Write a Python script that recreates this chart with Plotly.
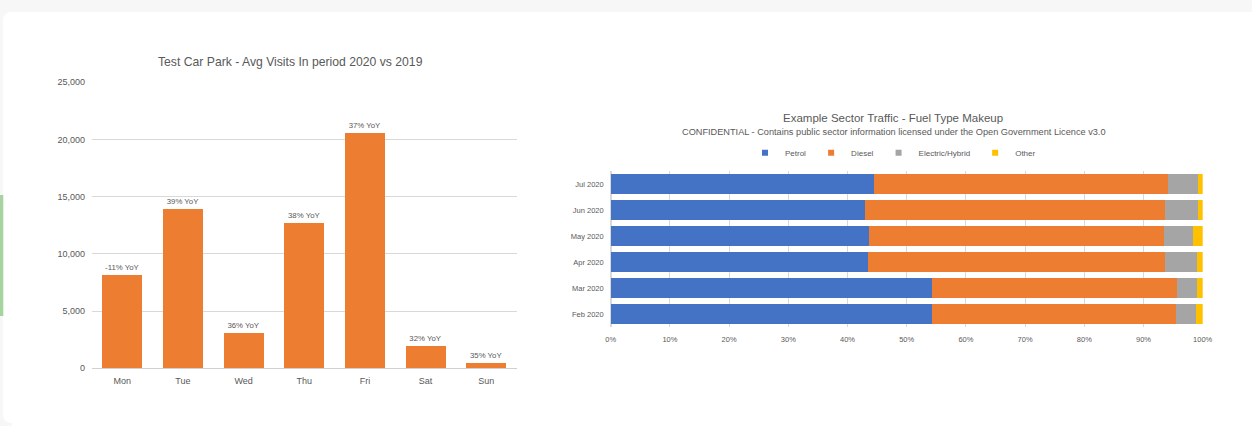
import plotly.graph_objects as go

# ---------------- data ----------------
days = ["Mon", "Tue", "Wed", "Thu", "Fri", "Sat", "Sun"]
avg_visits = [8130, 13950, 3060, 12675, 20590, 1950, 440]
yoy_labels = ["-11% YoY", "39% YoY", "36% YoY", "38% YoY", "37% YoY", "32% YoY", "35% YoY"]

months = ["Feb 2020", "Mar 2020", "Apr 2020", "May 2020", "Jun 2020", "Jul 2020"]
petrol = [54.2, 54.2, 43.4, 43.6, 42.9, 44.5]
diesel = [41.3, 41.5, 50.2, 49.9, 50.7, 49.7]
electric = [3.4, 3.4, 5.5, 4.9, 5.6, 5.0]
other = [1.1, 0.9, 0.9, 1.6, 0.8, 0.8]
fuel_names = ["Petrol", "Diesel", "Electric/Hybrid", "Other"]
fuel_colors = ["#4472C4", "#ED7D31", "#A5A5A5", "#FFC000"]

left_ticks = [0, 5000, 10000, 15000, 20000, 25000]
right_ticks = [0, 10, 20, 30, 40, 50, 60, 70, 80, 90, 100]
right_tick_text = [f"{v}%" for v in right_ticks]

# ---------------- layout helpers ----------------
W, H = 1252, 426
FONT = "Liberation Sans"
GREY = "#595959"


def px(x):
    return x / W


def py(y):
    return 1 - y / H


fig = go.Figure()

fig.add_trace(go.Bar(
    x=days, y=avg_visits, text=yoy_labels, textposition="outside",
    textfont=dict(size=7.8, color=GREY, family=FONT),
    marker=dict(color="#ED7D31", line=dict(width=0)),
    cliponaxis=False, showlegend=False, xaxis="x", yaxis="y",
    hoverinfo="x+y",
))

for name, vals, col in zip(fuel_names, [petrol, diesel, electric, other], fuel_colors):
    fig.add_trace(go.Bar(
        y=months, x=vals, orientation="h", name=name, legendgroup=name,
        marker=dict(color=col, line=dict(width=0)), showlegend=False,
        xaxis="x2", yaxis="y2",
    ))
    # small square legend entry for the same series
    fig.add_trace(go.Scatter(
        x=[None], y=[None], mode="markers", name=name, legendgroup=name,
        marker=dict(symbol="square", size=6, color=col),
        xaxis="x2", yaxis="y2", hoverinfo="skip",
    ))

# card background shapes
r = 9
card_path = (
    f"M {px(3)},{py(12 + r)} Q {px(3)},{py(12)} {px(3 + r)},{py(12)} "
    f"L {px(W)},{py(12)} L {px(W)},{py(H)} L {px(3 + r)},{py(H)} "
    f"L {px(3 + r)},{py(423)} Q {px(3)},{py(423)} {px(3)},{py(423 - r)} Z"
)
shapes = [
    dict(type="path", path=card_path, xref="paper", yref="paper",
         fillcolor="white", line=dict(width=0), layer="below"),
    dict(type="rect", xref="paper", yref="paper", x0=px(0), x1=px(3.3),
         y0=py(316), y1=py(195), fillcolor="#A6D49F", line=dict(width=0), layer="below"),
]

annotations = [
    dict(text="Test Car Park - Avg Visits In period 2020 vs 2019", x=px(290), y=py(62),
         xref="paper", yref="paper", showarrow=False, xanchor="center", yanchor="middle",
         font=dict(size=12.2, color=GREY, family=FONT)),
    dict(text="Example Sector Traffic - Fuel Type Makeup", x=px(892.5), y=py(117.5),
         xref="paper", yref="paper", showarrow=False, xanchor="center", yanchor="middle",
         font=dict(size=11.5, color=GREY, family=FONT)),
    dict(text="CONFIDENTIAL - Contains public sector information licensed under the Open Government Licence v3.0",
         x=px(893.5), y=py(132), xref="paper", yref="paper", showarrow=False,
         xanchor="center", yanchor="middle", font=dict(size=9.2, color=GREY, family=FONT)),
]

fig.update_layout(
    width=W, height=H,
    margin=dict(l=0, r=0, t=0, b=0, pad=0, autoexpand=False),
    paper_bgcolor="#F7F7F7", plot_bgcolor="rgba(0,0,0,0)",
    font=dict(family=FONT, color=GREY),
    barmode="stack",
    bargap=0.34,
    shapes=shapes, annotations=annotations,
    legend=dict(orientation="h", x=px(893), y=py(152.7), xanchor="center", yanchor="middle",
                font=dict(size=8, color=GREY, family=FONT), itemwidth=30,
                bgcolor="rgba(0,0,0,0)", traceorder="normal", itemclick=False,
                itemdoubleclick=False),
    xaxis=dict(domain=[px(92), px(516.5)], anchor="y", showgrid=False, showline=False,
               ticks="", tickfont=dict(size=9, color=GREY), ticklabelstandoff=6,
               fixedrange=True),
    yaxis=dict(domain=[py(368.3), py(82.3)], anchor="x", range=[0, 25000],
               tickvals=left_ticks, tickformat=",", showgrid=True, gridcolor="#D9D9D9",
               gridwidth=1, zeroline=True, zerolinecolor="#D0D0D0", zerolinewidth=1,
               showline=False, ticks="", tickfont=dict(size=9, color=GREY),
               ticklabelstandoff=6, fixedrange=True),
    xaxis2=dict(domain=[px(610.7), px(1202.7)], anchor="y2", range=[0, 100],
                tickvals=right_ticks, ticktext=right_tick_text, showgrid=True,
                gridcolor="#D9D9D9", gridwidth=1, zeroline=True, zerolinecolor="#D9D9D9",
                showline=False, ticks="", tickfont=dict(size=7.5, color=GREY),
                ticklabelstandoff=6, fixedrange=True),
    yaxis2=dict(domain=[py(327), py(171)], anchor="x2", showgrid=False, showline=False,
                ticks="", tickfont=dict(size=7.5, color=GREY), ticklabelstandoff=6,
                fixedrange=True),
)
fig.update_traces(selector=dict(type="bar", orientation="h"), width=0.77)

fig.write_html("out.html")
